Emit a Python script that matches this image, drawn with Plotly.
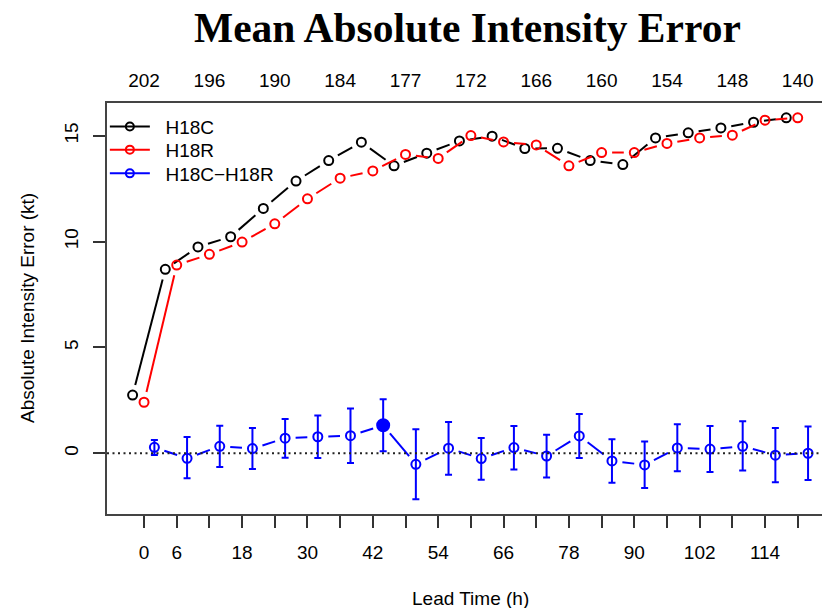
import math
import plotly.graph_objects as go

# ---------------- data ----------------
lead_hours = [0, 6, 12, 18, 24, 30, 36, 42, 48, 54, 60, 66, 72, 78, 84, 90, 96, 102, 108, 114, 120]
h18c = [2.75, 8.69, 9.75, 10.23, 11.57, 12.86, 13.83, 14.70, 13.58, 14.18, 14.76,
        14.98, 14.40, 14.41, 13.83, 13.64, 14.90, 15.14, 15.37, 15.64, 15.85]
h18r = [2.41, 8.89, 9.40, 9.98, 10.84, 12.02, 13.00, 13.34, 14.12, 13.93, 15.01,
        14.71, 14.57, 13.58, 14.21, 14.21, 14.64, 14.90, 15.03, 15.74, 15.85]
diff = [0.28, -0.24, 0.33, 0.22, 0.71, 0.78, 0.83, 1.32, -0.52, 0.24, -0.25,
        0.27, -0.13, 0.82, -0.36, -0.55, 0.25, 0.20, 0.33, -0.09, 0.00]
diff_err_plus = [0.35, 1.01, 0.97, 0.97, 0.91, 1.01, 1.28, 1.23, 1.65, 1.24, 0.97,
                 1.02, 1.01, 1.04, 1.02, 1.10, 1.12, 1.09, 1.18, 1.28, 1.26]
diff_err_minus = [0.36, 0.94, 0.98, 0.96, 0.92, 1.00, 1.29, 1.23, 1.65, 1.25, 1.00,
                  1.04, 1.02, 1.04, 1.03, 1.09, 1.10, 1.08, 1.15, 1.28, 1.26]
diff_significant = [False, False, False, False, False, False, False, True, False, False, False,
                    False, False, False, False, False, False, False, False, False, False]

bottom_labelled = [0, 6, 18, 30, 42, 54, 66, 78, 90, 102, 114]
sample_hours = [0, 12, 24, 36, 48, 60, 72, 84, 96, 108, 120]
sample_counts = [202, 196, 190, 184, 177, 172, 166, 160, 154, 148, 140]

series_names = ["H18C", "H18R", "H18C\u2212H18R"]
colors = ["#000000", "#ff0000", "#0000ff"]
x_offsets = [-2.1, 0.0, 1.9]
legend_ids = ["legend", "legend2", "legend3"]
legend_rows_px = [126.7, 149.8, 173.5]

FONT = "Liberation Sans, Arial, sans-serif"
X_RANGE = [-6.8, 124.46]
Y_RANGE = [-2.87, 16.55]
PLOT_LEFT, PLOT_TOP, PLOT_W, PLOT_H = 107, 103, 715, 411
GAP_PX = 10.5  # R type="b": line segments stop short of the points
MARKER_SIZE = 9

PX_X = PLOT_W / (X_RANGE[1] - X_RANGE[0])
PX_Y = PLOT_H / (Y_RANGE[1] - Y_RANGE[0])


def gapped_segments(xv, yv, gap):
    gx, gy = [], []
    for x0, y0, x1, y1 in zip(xv[:-1], yv[:-1], xv[1:], yv[1:]):
        length = math.hypot((x1 - x0) * PX_X, (y1 - y0) * PX_Y)
        if length <= 2 * gap:
            continue
        f = gap / length
        gx += [x0 + (x1 - x0) * f, x1 - (x1 - x0) * f, None]
        gy += [y0 + (y1 - y0) * f, y1 - (y1 - y0) * f, None]
    return gx, gy


xs = [[h + off for h in lead_hours] for off in x_offsets]
ys = [h18c, h18r, diff]

fig = go.Figure()

for i in range(3):
    gx, gy = gapped_segments(xs[i], ys[i], GAP_PX)
    fig.add_trace(go.Scatter(x=gx, y=gy, mode="lines", line=dict(color=colors[i], width=2),
                             showlegend=False, hoverinfo="skip", connectgaps=False))
    if i < 2:
        fig.add_trace(go.Scatter(x=xs[i], y=ys[i], mode="markers", name=series_names[i],
                                 marker=dict(symbol="circle-open", size=MARKER_SIZE, color=colors[i],
                                             opacity=1, line=dict(width=2, color=colors[i])),
                                 showlegend=False))

fig.add_trace(go.Scatter(
    x=xs[2], y=diff, mode="markers", name=series_names[2],
    marker=dict(symbol=["circle" if s else "circle-open" for s in diff_significant],
                size=[12 if s else MARKER_SIZE for s in diff_significant], opacity=1,
                color=colors[2], line=dict(width=2, color=colors[2])),
    error_y=dict(type="data", symmetric=False, array=diff_err_plus, arrayminus=diff_err_minus,
                 color=colors[2], thickness=2, width=3.5),
    showlegend=False))

# legend entries (one legend per row so the row spacing matches)
for i in range(3):
    fig.add_trace(go.Scatter(x=[None], y=[None], mode="lines+markers",
                             name="\u00a0\u00a0" + series_names[i], legend=legend_ids[i],
                             line=dict(color=colors[i], width=2),
                             marker=dict(symbol="circle-open", size=8, color=colors[i],
                                         line=dict(width=2, color=colors[i]))))

# top axis carrier (sample counts)
fig.add_trace(go.Scatter(x=[None], y=[None], xaxis="x2", showlegend=False, hoverinfo="skip"))

fig.add_shape(type="line", xref="paper", x0=0, x1=1, yref="y", y0=0, y1=0,
              line=dict(color="#222222", width=2, dash="2px,3.5px"), layer="above")

legend_common = dict(xanchor="left", yanchor="middle", bgcolor="rgba(0,0,0,0)",
                     borderwidth=0, font=dict(family=FONT, size=19), itemwidth=40)
legend_layout = {}
for i in range(3):
    legend_layout[legend_ids[i]] = dict(x=-0.003, y=1 - (legend_rows_px[i] - PLOT_TOP) / PLOT_H,
                                        **legend_common)

fig.update_layout(
    width=822, height=608,
    margin=dict(l=PLOT_LEFT, r=822 - PLOT_LEFT - PLOT_W, t=PLOT_TOP, b=608 - PLOT_TOP - PLOT_H, pad=0),
    paper_bgcolor="white", plot_bgcolor="white",
    font=dict(family=FONT, size=19, color="#000000"),
    xaxis=dict(range=X_RANGE, tickmode="array", tickvals=lead_hours,
               ticktext=[str(h) if h in bottom_labelled else "" for h in lead_hours],
               ticks="outside", ticklen=12, tickwidth=1.5, tickcolor="#333333",
               showline=True, linecolor="#444444", linewidth=1.5, mirror=True,
               showgrid=False, zeroline=False, ticklabelstandoff=8,
               tickfont=dict(family=FONT, size=19)),
    xaxis2=dict(range=X_RANGE, overlaying="x", side="top", tickmode="array",
                tickvals=sample_hours, ticktext=[str(c) for c in sample_counts],
                ticks="", showline=False, showgrid=False, zeroline=False,
                ticklabelstandoff=11, tickfont=dict(family=FONT, size=19)),
    yaxis=dict(range=Y_RANGE, tickmode="array", tickvals=[0, 5, 10, 15],
               ticks="outside", ticklen=12, tickwidth=1.5, tickcolor="#333333",
               showline=True, linecolor="#444444", linewidth=1.5, mirror=False,
               showgrid=False, zeroline=False, tickangle=-90, ticklabelstandoff=8,
               tickfont=dict(family=FONT, size=19)),
    showlegend=True,
    annotations=[
        dict(text="<b>Mean Absolute Intensity Error</b>", xref="paper", yref="paper",
             x=(467.5 - PLOT_LEFT) / PLOT_W, y=1 + (PLOT_TOP - 28) / PLOT_H,
             xanchor="center", yanchor="middle", showarrow=False,
             font=dict(family="Liberation Serif, Times New Roman, serif", size=41.5)),
        dict(text="Lead Time (h)", xref="paper", yref="paper",
             x=(470 - PLOT_LEFT) / PLOT_W, y=-(598 - 514) / PLOT_H, xanchor="center", yanchor="middle",
             showarrow=False, font=dict(family=FONT, size=19)),
        dict(text="Absolute Intensity Error (kt)", xref="paper", yref="paper",
             x=-(PLOT_LEFT - 27) / PLOT_W, y=(514 - 308) / PLOT_H, xanchor="center", yanchor="middle",
             textangle=-90, showarrow=False, font=dict(family=FONT, size=19)),
    ],
    **legend_layout,
)

fig.write_html("out.html")
